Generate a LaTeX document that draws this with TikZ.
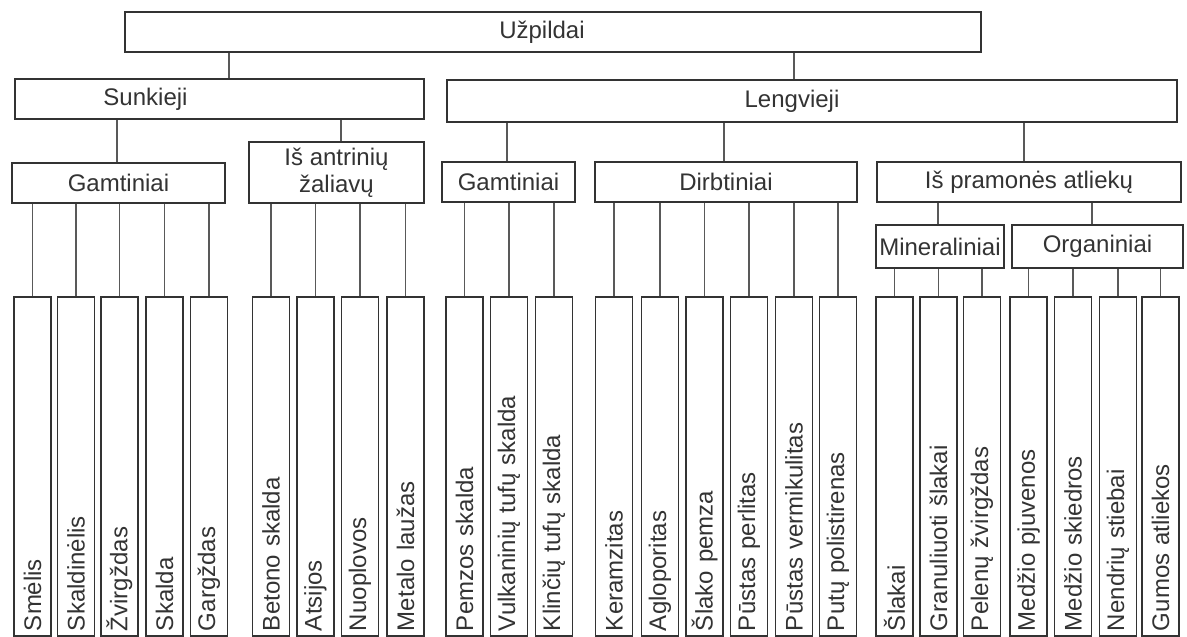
\documentclass[tikz,border=0pt]{standalone}
\usepackage{fontspec}
\setmainfont{Liberation Sans}
\usetikzlibrary{positioning}

\begin{document}
\begin{tikzpicture}[x=1pt,y=-1pt]
  \tikzset{box/.style={draw=black!80, line width=1.3pt, fill=white, text=black!80,
      font=\fontsize{24}{27}\selectfont, inner sep=2pt, align=center}}
  \tikzset{lbl/.style={text=black!80, font=\fontsize{24}{27}\selectfont}}
  \tikzset{leaf/.style={box, rotate=90, minimum height=37pt, text width=329pt,
      inner xsep=5pt, align=left}}
  \tikzset{conn/.style={draw=black!65, line width=1.3pt}}
  \useasboundingbox (0,0) rectangle (1187,637);

  % upper levels
  \node[box, minimum width=856pt, minimum height=40pt,
    label={[lbl, xshift=-11pt]center:Užpildai}] (uzp) at (553,32) {};
  \node[box, minimum width=409pt, minimum height=40pt,
    label={[lbl, xshift=-74pt]center:Sunkieji}] (sunk) at (219.5,99) {};
  \node[box, minimum width=730pt, minimum height=42pt,
    label={[lbl, xshift=-20pt]center:Lengvieji}] (leng) at (812,101) {};

  \node[box, minimum width=213pt, minimum height=40pt] (gamtA) at (118.5,183) {Gamtiniai};
  \node[box, minimum width=175pt, minimum height=61pt] (antr) at (336.5,172.5) {Iš antrinių\\žaliavų};
  \node[box, minimum width=133pt, minimum height=40pt] (gamtC) at (508.5,182) {Gamtiniai};
  \node[box, minimum width=262pt, minimum height=40pt] (dirb) at (726,182) {Dirbtiniai};
  \node[box, minimum width=304pt, minimum height=40pt] (pram) at (1029,182) {Iš pramonės atliekų};
  \node[box, minimum width=128pt, minimum height=43pt] (miner) at (940,246.5) {Mineraliniai};
  \node[box, minimum width=171pt, minimum height=43pt] (organ) at (1097.5,246.5) {Organiniai};

  \draw[conn] ([xshift=9.5pt]sunk.north) -- ([xshift=9.5pt]sunk.north |- uzp.south);
  \draw[conn] ([xshift=-18pt]leng.north) -- ([xshift=-18pt]leng.north |- uzp.south);
  \draw[conn] ([xshift=-1.5pt]gamtA.north) -- ([xshift=-1.5pt]gamtA.north |- sunk.south);
  \draw[conn] ([xshift=4.5pt]antr.north) -- ([xshift=4.5pt]antr.north |- sunk.south);
  \draw[conn] ([xshift=-1.5pt]gamtC.north) -- ([xshift=-1.5pt]gamtC.north |- leng.south);
  \draw[conn] ([xshift=-2pt]dirb.north) -- ([xshift=-2pt]dirb.north |- leng.south);
  \draw[conn] ([xshift=-5pt]pram.north) -- ([xshift=-5pt]pram.north |- leng.south);
  \draw[conn] ([xshift=-2pt]miner.north) -- ([xshift=-2pt]miner.north |- pram.south);
  \draw[conn] ([xshift=-5.5pt]organ.north) -- ([xshift=-5.5pt]organ.north |- pram.south);

  % leaves
  \foreach \n/\x/\t in {smelis/32.5/Smėlis, skaldinelis/76/Skaldinėlis,
      zvirgzdas/119.5/Žvirgždas, skalda/164.5/Skalda, gargzdas/209/Gargždas}
    {\node[leaf] (\n) at (\x,466.5) {\t};
     \draw[conn] (\n.east) -- (\n.east |- gamtA.south);}
  \foreach \n/\x/\t in {betono/271/Betono skalda, atsijos/315.5/Atsijos,
      nuoplovos/360/Nuoplovos, metalo/405.5/Metalo laužas}
    {\node[leaf] (\n) at (\x,466.5) {\t};
     \draw[conn] (\n.east) -- (\n.east |- antr.south);}
  \foreach \n/\x/\t in {pemzos/464.5/Pemzos skalda, vulk/509/Vulkaninių tufų skalda,
      klinciu/554/Klinčių tufų skalda}
    {\node[leaf] (\n) at (\x,466.5) {\t};
     \draw[conn] (\n.east) -- (\n.east |- gamtC.south);}
  \foreach \n/\x/\t in {keramz/614/Keramzitas, aglop/660/Agloporitas,
      slakop/704.5/Šlako pemza, perlit/749/Pūstas perlitas,
      vermik/794/Pūstas vermikulitas, putu/838/Putų polistirenas}
    {\node[leaf] (\n) at (\x,466.5) {\t};
     \draw[conn] (\n.east) -- (\n.east |- dirb.south);}
  \foreach \n/\x/\t in {slakai/894.5/Šlakai, granul/938.5/Granuliuoti šlakai,
      pelenu/982/Pelenų žvirgždas}
    {\node[leaf] (\n) at (\x,466.5) {\t};
     \draw[conn] (\n.east) -- (\n.east |- miner.south);}
  \foreach \n/\x/\t in {pjuv/1028.5/Medžio pjuvenos, skied/1073/Medžio skiedros,
      nendr/1118/Nendrių stiebai, gumos/1160.5/Gumos atliekos}
    {\node[leaf] (\n) at (\x,466.5) {\t};
     \draw[conn] (\n.east) -- (\n.east |- organ.south);}
\end{tikzpicture}
\end{document}
